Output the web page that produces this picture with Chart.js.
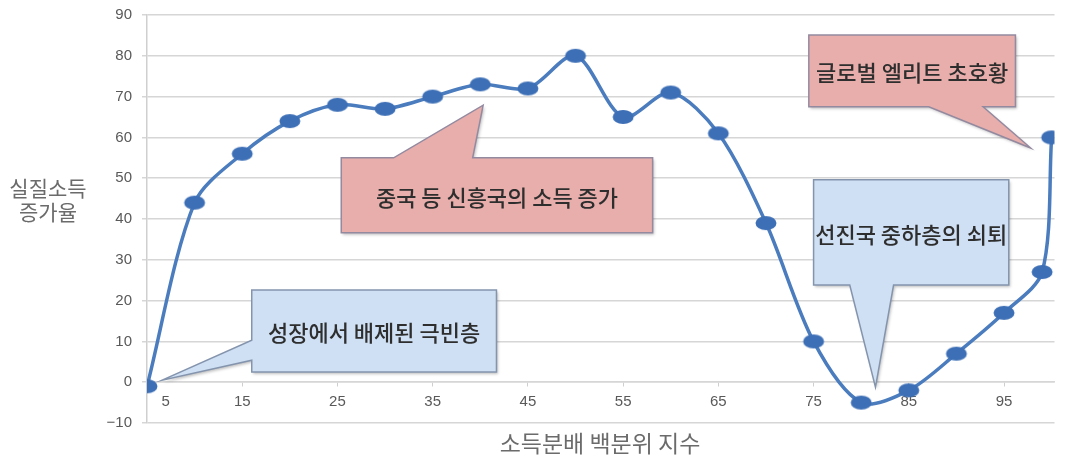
<!DOCTYPE html>
<html lang="ko">
<head>
<meta charset="utf-8">
<script src="https://cdn.jsdelivr.net/npm/chart.js@4.4.1/dist/chart.umd.min.js"></script>
<style>
  html, body { margin: 0; padding: 0; background: #fff; }
  #wrap { width: 1066px; height: 460px; position: relative; }
</style>
</head>
<body>
<div id="wrap"><canvas id="elephant"></canvas></div>
<script>
// 소득분배 백분위별 실질소득 증가율 (코끼리 곡선)
var percentiles = [5, 10, 15, 20, 25, 30, 35, 40, 45, 50, 55, 60, 65, 70, 75, 80, 85, 90, 95, 99, 100];
var growth = [-1, 44, 56, 64, 68, 67, 70, 73, 72, 80, 65, 71, 61, 39, 10, -5, -2, 7, 17, 27, 60];
var xTickValues = [5, 15, 25, 35, 45, 55, 65, 75, 85, 95];

var yTitle = ['실질소득', '증가율'];
var xTitle = '소득분배 백분위 지수';

// 말풍선: 상자(x1, x2, yTop, yBottom)와 꼬리(붙는 변, 밑변 두 점, 끝점)는 축 단위
var callouts = [
    { text: '성장에서 배제된 극빈층', fill: '#cfe0f4', stroke: '#8494ad',
      box: [16.0, 41.7, 22.6, 2.5], edge: 'left', base: [10.3, 5.4], tip: [6.6, 0.5] },
    { text: '중국 등 신흥국의 소득 증가', fill: '#e7aeab', stroke: '#948aa0', maxWidth: 242,
      box: [25.4, 58.1, 55.0, 36.6], edge: 'top', base: [30.9, 39.2], tip: [40.3, 67.9] },
    { text: '글로벌 엘리트 초호황', fill: '#e7aeab', stroke: '#948aa0',
      box: [74.5, 96.2, 85.1, 67.5], edge: 'bottom', base: [87.1, 92.8], tip: [97.8, 57.4] },
    { text: '선진국 중하층의 쇠퇴', fill: '#cfe0f4', stroke: '#8494ad',
      box: [75.0, 95.5, 49.6, 23.8], edge: 'bottom', base: [78.8, 83.4], tip: [81.5, -1.2] }
];

// 가로로 긴 타원 마커
function makeMarker() {
    var c = document.createElement('canvas');
    c.width = 24;
    c.height = 16;
    var g = c.getContext('2d');
    g.fillStyle = '#3d6fb6';
    g.beginPath();
    g.ellipse(12, 8, 10.5, 7, 0, 0, Math.PI * 2);
    g.fill();
    return c;
}

var calloutPlugin = {
    id: 'callouts',
    afterDatasetsDraw: function(chart) {
        var ctx = chart.ctx;
        var xs = chart.scales.x, ys = chart.scales.y;
        callouts.forEach(function(c) {
            var l = xs.getPixelForValue(c.box[0]);
            var r = xs.getPixelForValue(c.box[1]);
            var t = ys.getPixelForValue(c.box[2]);
            var b = ys.getPixelForValue(c.box[3]);
            var tx = xs.getPixelForValue(c.tip[0]);
            var ty = ys.getPixelForValue(c.tip[1]);
            var pts = [[l, t]];
            if (c.edge === 'top') {
                pts.push([xs.getPixelForValue(c.base[0]), t], [tx, ty], [xs.getPixelForValue(c.base[1]), t]);
            }
            pts.push([r, t], [r, b]);
            if (c.edge === 'bottom') {
                pts.push([xs.getPixelForValue(c.base[1]), b], [tx, ty], [xs.getPixelForValue(c.base[0]), b]);
            }
            pts.push([l, b]);
            if (c.edge === 'left') {
                pts.push([l, ys.getPixelForValue(c.base[1])], [tx, ty], [l, ys.getPixelForValue(c.base[0])]);
            }

            ctx.save();
            ctx.beginPath();
            pts.forEach(function(p, i) {
                if (i === 0) ctx.moveTo(p[0], p[1]); else ctx.lineTo(p[0], p[1]);
            });
            ctx.closePath();
            ctx.shadowColor = 'rgba(0, 0, 0, 0.25)';
            ctx.shadowBlur = 3;
            ctx.shadowOffsetX = 1.5;
            ctx.shadowOffsetY = 2;
            ctx.fillStyle = c.fill;
            ctx.fill();
            ctx.shadowColor = 'transparent';
            ctx.lineWidth = 1.5;
            ctx.strokeStyle = c.stroke;
            ctx.stroke();

            ctx.fillStyle = '#2e2e2e';
            ctx.font = '500 22px "Noto Sans CJK KR"';
            ctx.textAlign = 'center';
            ctx.textBaseline = 'middle';
            if (c.maxWidth) {
                ctx.fillText(c.text, (l + r) / 2, (t + b) / 2 + 2, c.maxWidth);
            } else {
                ctx.fillText(c.text, (l + r) / 2, (t + b) / 2 + 2);
            }
            ctx.restore();
        });
    }
};

var titlePlugin = {
    id: 'axisTitles',
    afterDraw: function(chart) {
        var ctx = chart.ctx;
        ctx.save();
        ctx.fillStyle = '#6b6b6b';
        ctx.textAlign = 'center';
        ctx.textBaseline = 'middle';
        ctx.font = '21px "Noto Sans CJK KR"';
        ctx.fillText(yTitle[0], 48, 188);
        ctx.fillText(yTitle[1], 48, 212);
        ctx.font = '23px "Noto Sans CJK KR"';
        ctx.fillText(xTitle, 600, 443);
        ctx.restore();
    }
};

var ctx = document.getElementById('elephant').getContext('2d');
new Chart(ctx, {
    type: 'line',
    data: {
        datasets: [{
            data: percentiles.map(function(p, i) { return { x: p, y: growth[i] }; }),
            borderColor: '#4a7cbe',
            borderWidth: 3.5,
            tension: 0.3,
            pointStyle: makeMarker(),
            pointRadius: 8,
            pointHoverRadius: 8,
            fill: false
        }]
    },
    options: {
        responsive: true,
        maintainAspectRatio: false,
        animation: false,
        events: [],
        layout: { padding: { top: 15, right: 0, bottom: 37, left: 0 } },
        plugins: {
            legend: { display: false },
            tooltip: { enabled: false }
        },
        scales: {
            x: {
                type: 'linear',
                position: { y: 0 },
                min: 5,
                max: 100.3,
                afterBuildTicks: function(scale) {
                    scale.ticks = xTickValues.map(function(v) { return { value: v }; });
                },
                afterFit: function(scale) {
                    scale.paddingLeft = 0;
                    scale.paddingRight = 0;
                },
                grid: {
                    drawOnChartArea: false,
                    tickLength: 4,
                    color: '#cfcfcf'
                },
                border: { display: true, color: '#d6d6d6', width: 1.5 },
                ticks: {
                    autoSkip: false,
                    maxRotation: 0,
                    padding: 7,
                    color: '#595959',
                    font: { family: 'Liberation Sans', size: 15 },
                    // 첫 눈금 글자는 세로축에서 조금 떨어뜨림
                    callback: function(v) { return v === 5 ? '         5' : String(v); }
                }
            },
            y: {
                min: -10,
                max: 90,
                afterFit: function(scale) {
                    scale.width = 147;
                    scale.paddingTop = 0;
                    scale.paddingBottom = 0;
                },
                grid: {
                    color: '#d6d6d6',
                    lineWidth: 1.5,
                    tickLength: 5
                },
                border: { display: true, color: '#cfcfcf', width: 1.5 },
                ticks: {
                    stepSize: 10,
                    padding: 10,
                    color: '#595959',
                    font: { family: 'Liberation Sans', size: 15 },
                    callback: function(v) { return v < 0 ? '\u2212' + Math.abs(v) : String(v); }
                }
            }
        }
    },
    plugins: [calloutPlugin, titlePlugin]
});
</script>
</body>
</html>
